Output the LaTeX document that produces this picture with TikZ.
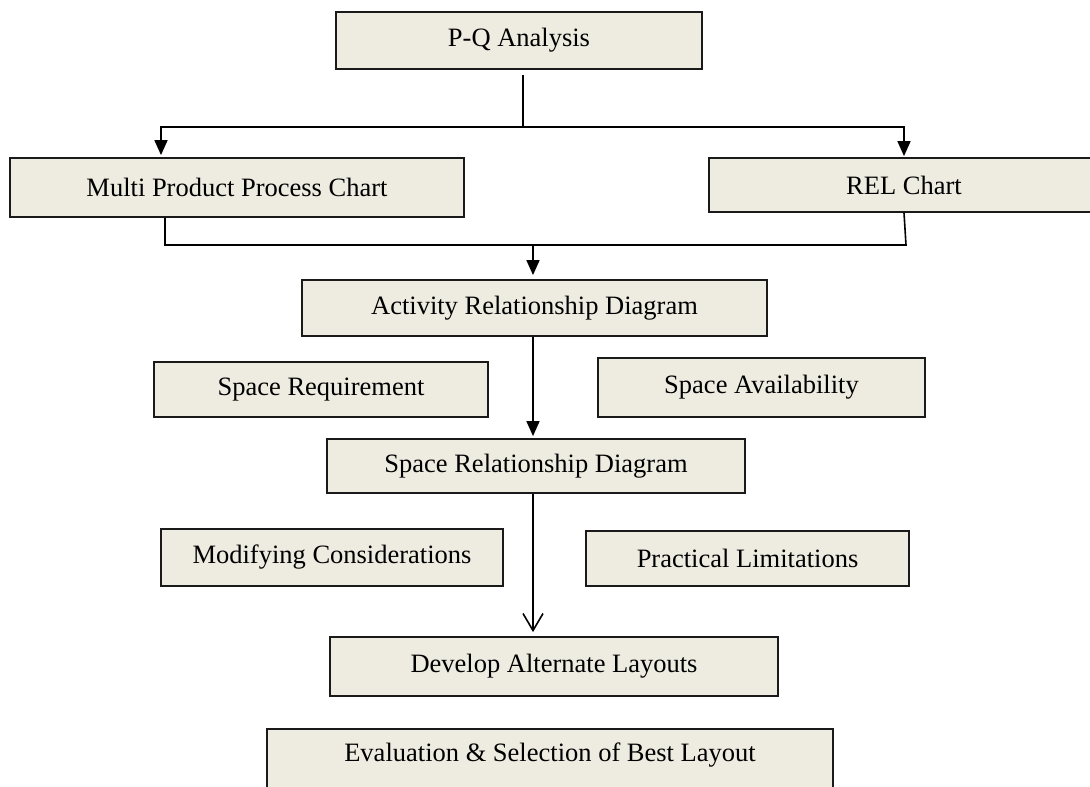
\documentclass[tikz,border=0pt]{standalone}
\usepackage{fontspec}
\setmainfont{Liberation Serif}
\usetikzlibrary{arrows.meta,calc}
\definecolor{boxfill}{HTML}{EEECE1}
\definecolor{boxline}{HTML}{1A1A1A}
\tikzset{
  fbox/.style={draw=boxline, line width=1.8pt, fill=boxfill, rectangle, inner sep=0pt,
    font=\fontsize{26.5}{30}\selectfont, text=black},
  conn/.style={draw=black, line width=1.6pt},
  farrow/.style={conn, -{Triangle[length=15pt,width=13pt]}},
  oarrow/.style={conn, -{Straight Barb[length=17pt,width=20pt,line width=1.6pt]}},
}
\newcommand{\fbx}[6]{% name, x1, x2, y1, y2, text
  \node[fbox, minimum width={(#3-#2)*1pt}, minimum height={(#5-#4)*1pt}]
    (#1) at ({(#2+#3)/2},{(#4+#5)/2}) {#6};}
\begin{document}
\begin{tikzpicture}[x=1pt,y=-1pt]
\useasboundingbox (0,0) rectangle (1090,787);
\begin{scope}
\clip (0,0) rectangle (1090,787);
\fbx{pq}{336}{702}{12}{69}{P-Q Analysis}
\fbx{mpc}{10}{464}{158}{217}{Multi Product Process Chart}
\fbx{rel}{709}{1099}{158}{212}{REL Chart}
\fbx{ard}{302}{767}{280}{336}{Activity Relationship Diagram}
\fbx{sreq}{154}{488}{362}{417}{Space Requirement}
\fbx{savail}{598}{925}{358}{417}{Space Availability}
\fbx{srd}{327}{745}{439}{493}{Space Relationship Diagram}
\fbx{mod}{161}{503}{529}{586}{Modifying Considerations}
\fbx{prac}{586}{909}{531}{586}{Practical Limitations}
\fbx{dev}{330}{778}{637}{696}{Develop Alternate Layouts}
\node[fbox, minimum width=566pt, minimum height=70pt, anchor=north] (eval) at (550,728) {};
\node[font=\fontsize{26.5}{30}\selectfont] (evaltext) at (550,755) {Evaluation \& Selection of Best Layout};

% coordinates for connector columns
\coordinate (cpq) at (523,127);
\coordinate (cl) at (161,0);
\coordinate (cr) at (904,0);
\coordinate (ml) at (165,245);
\coordinate (mr) at (906,245);
\coordinate (cm) at (533,245);
\coordinate (cx) at (533,0);

% P-Q to two charts
\draw[conn, line width=1.2pt] ($(cpq |- pq.south)+(0,5)$) -- (cpq);
\draw[farrow] (cpq) -| ($(cl |- mpc.north)+(0,-2)$);
\draw[farrow] (cpq) -| ($(cr |- rel.north)+(0,-1)$);

% two charts merge
\draw[conn] (ml |- mpc.south) -- (ml) -- (mr) -- ($(mr |- rel.south)+(-2,0)$);
\draw[farrow] (cm) -- ($(cx |- ard.north)+(0,-4)$);

% ARD -> SRD
\draw[farrow] (cx |- ard.south) -- ($(cx |- srd.north)+(0,-2)$);
% SRD -> Develop
\draw[oarrow] (cx |- srd.south) -- ($(cx |- dev.north)+(0,-4)$);
\end{scope}
\end{tikzpicture}
\end{document}
